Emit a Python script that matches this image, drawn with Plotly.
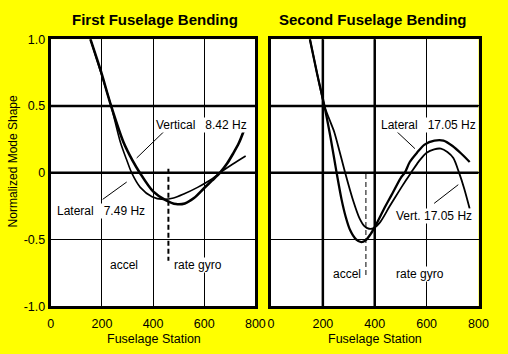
import plotly.graph_objects as go

W, H = 508, 354

# ---------------- data ----------------
# First fuselage bending (left panel)
LAT1_S = [155, 196, 236, 272, 296, 316, 350, 396, 440, 480, 520, 574, 624, 662, 712, 762]
LAT1_V = [1.0, 0.75, 0.5, 0.23, 0.10, 0.0, -0.11, -0.18, -0.20, -0.19, -0.16, -0.11, -0.055, 0.0, 0.065, 0.125]
VERT1_S = [155, 196, 236, 284, 320, 348, 400, 449, 490, 524, 560, 600, 630, 662, 690, 712, 735, 756]
VERT1_V = [1.0, 0.76, 0.5, 0.23, 0.09, 0.0, -0.14, -0.205, -0.235, -0.23, -0.19, -0.115, -0.06, 0.0, 0.07, 0.14, 0.22, 0.32]

# Second fuselage bending (right panel)
LAT2_S = [150, 178, 206, 230, 253, 272, 288, 305, 328, 348, 366, 384, 402, 436, 464, 500, 516,
          535, 563, 592, 630, 665, 700, 735, 766]
LAT2_V = [1.0, 0.74, 0.5, 0.26, 0.0, -0.2, -0.33, -0.43, -0.50, -0.52, -0.505, -0.46, -0.40, -0.27,
          -0.17, -0.04, 0.0, 0.08, 0.15, 0.21, 0.24, 0.24, 0.20, 0.14, 0.08]
VERT2_S = [150, 178, 206, 225, 243, 265, 286, 317, 341, 360, 378, 396, 421, 458, 493, 521, 540,
           570, 600, 629, 655, 680, 703, 725, 745, 766]
VERT2_V = [1.0, 0.74, 0.5, 0.40, 0.31, 0.155, 0.0, -0.21, -0.34, -0.40, -0.42, -0.415, -0.37, -0.25,
           -0.14, -0.055, 0.0, 0.085, 0.15, 0.175, 0.18, 0.155, 0.11, 0.0, -0.12, -0.27]

# sensor marker lines: (station, top, bottom)
SENSOR1 = (460, 0.03, -0.66)
SENSOR2 = (366, -0.01, -0.78)

# leader lines: (s0, v0, s1, v1)
LEAD1 = [(449, 0.32, 336, 0.11), (203, -0.20, 297, -0.07)]
LEAD2 = [(481, 0.315, 555, 0.18), (629, -0.23, 722, -0.09)]

# labels: (text, station, value, anchor)
NB = "\u00a0"
LABELS1 = [("Vertical" + NB * 3 + "8.42 Hz", 408, 0.36, "left"),
           ("Lateral" + NB * 3 + "7.49 Hz", 19, -0.29, "left"),
           ("accel", 287, -0.69, "center"),
           ("rate gyro", 479, -0.69, "left")]
LABELS2 = [("Lateral" + NB * 3 + "17.05 Hz", 419, 0.355, "left"),
           ("Vert." + NB + "17.05 Hz", 480, -0.325, "left"),
           ("accel", 294, -0.76, "center"),
           ("rate gyro", 480, -0.76, "left")]

X_TICKS = [0, 200, 400, 600, 800]
X_TICKTEXT = ["0", "200", "400", "600", "800"]
Y_TICKS = [1.0, 0.5, 0.0, -0.5, -1.0]
Y_TICKTEXT = ["1.0", "0.5", "0", "-0.5", "-1.0"]

THICK_Y1 = [0.5, 0.0]
THICK_X1 = []
THICK_Y2 = [0.5, 0.0]
THICK_X2 = [200, 400]

TITLE1 = "First Fuselage Bending"
TITLE2 = "Second Fuselage Bending"
XTITLE = "Fuselage Station"
YTITLE = "Normalized Mode Shape"

FONT = "Liberation Sans, Arial, sans-serif"
YEL = "#FFFF00"

# ---------------- figure ----------------
fig = go.Figure()

def curve(s, v, xa, ya, w):
    fig.add_trace(go.Scatter(x=s, y=v, mode="lines", xaxis=xa, yaxis=ya,
                             line=dict(color="black", width=w, shape="spline", smoothing=0.8),
                             hoverinfo="skip", showlegend=False))

curve(LAT1_S, LAT1_V, "x", "y", 1.6)
curve(VERT1_S, VERT1_V, "x", "y", 2.6)
curve(VERT2_S, VERT2_V, "x2", "y2", 1.8)
curve(LAT2_S, LAT2_V, "x2", "y2", 2.3)

px_x1 = [49 / W, 259 / W]
px_x2 = [275 / W, 488 / W]
px_y = [1 - 311.5 / H, 1 - 33.5 / H]

axis_common = dict(showgrid=True, gridcolor="black", gridwidth=1, showline=True,
                   linecolor="black", linewidth=3, mirror=True, zeroline=False, ticks="",
                   tickfont=dict(family=FONT, size=12.5, color="black"), fixedrange=True)

fig.update_layout(
    width=W, height=H, margin=dict(l=0, r=0, t=0, b=0),
    paper_bgcolor=YEL, plot_bgcolor="white",
    xaxis=dict(domain=px_x1, range=[0, 800], tickvals=X_TICKS, ticktext=X_TICKTEXT,
               anchor="y", ticklabelstandoff=4, **axis_common),
    yaxis=dict(domain=px_y, range=[-1, 1], tickvals=Y_TICKS, ticktext=Y_TICKTEXT,
               anchor="x", **axis_common),
    xaxis2=dict(domain=px_x2, range=[0, 800], tickvals=X_TICKS, ticktext=X_TICKTEXT,
                anchor="y2", ticklabelstandoff=4, **axis_common),
    yaxis2=dict(domain=px_y, range=[-1, 1], tickvals=Y_TICKS, ticktext=Y_TICKTEXT,
                anchor="x2", showticklabels=False, **axis_common),
)

shapes = []
for xa, ya, ty, tx in [("x", "y", THICK_Y1, THICK_X1), ("x2", "y2", THICK_Y2, THICK_X2)]:
    for yv in ty:
        shapes.append(dict(type="line", xref=xa + " domain", yref=ya, x0=0, x1=1, y0=yv, y1=yv,
                           line=dict(color="black", width=2.5), layer="below"))
    for xv in tx:
        shapes.append(dict(type="line", xref=xa, yref=ya + " domain", x0=xv, x1=xv, y0=0, y1=1,
                           line=dict(color="black", width=2.5), layer="below"))

for xa, ya, leads in [("x", "y", LEAD1), ("x2", "y2", LEAD2)]:
    for s0, v0, s1, v1 in leads:
        shapes.append(dict(type="line", xref=xa, yref=ya, x0=s0, y0=v0, x1=s1, y1=v1,
                           line=dict(color="black", width=1)))

for xa, ya, sen, w in [("x", "y", SENSOR1, 2), ("x2", "y2", SENSOR2, 1)]:
    s, top, bot = sen
    shapes.append(dict(type="line", xref=xa, yref=ya, x0=s, x1=s, y0=top, y1=bot,
                       line=dict(color="black", width=w, dash="5px,3px")))

annotations = []
for xa, ya, labels in [("x", "y", LABELS1), ("x2", "y2", LABELS2)]:
    for text, s, v, anc in labels:
        annotations.append(dict(text=text, x=s, y=v, xref=xa, yref=ya, xanchor=anc,
                                yanchor="middle", showarrow=False, bgcolor="white", borderpad=0,
                                font=dict(family=FONT, size=12, color="black")))

annotations += [
    dict(text="<b>" + TITLE1 + "</b>", x=156 / W, y=1 - 16 / H, xref="paper", yref="paper",
         showarrow=False, xanchor="center", yanchor="middle", yshift=3,
         font=dict(family=FONT, size=15, color="black")),
    dict(text="<b>" + TITLE2 + "</b>", x=380 / W, y=1 - 16 / H, xref="paper", yref="paper",
         showarrow=False, xanchor="center", yanchor="middle", yshift=3,
         font=dict(family=FONT, size=15, color="black")),
    dict(text=XTITLE, x=155 / W, y=1 - 341 / H, xref="paper", yref="paper", showarrow=False,
         xanchor="center", yanchor="middle", yshift=-4,
         font=dict(family=FONT, size=12.5, color="black")),
    dict(text=XTITLE, x=382 / W, y=1 - 341 / H, xref="paper", yref="paper", showarrow=False,
         xanchor="center", yanchor="middle", yshift=-4,
         font=dict(family=FONT, size=12.5, color="black")),
    dict(text=YTITLE, x=10 / W, y=1 - 161 / H, xref="paper", yref="paper", showarrow=False,
         textangle=-90, xanchor="center", yanchor="middle",
         font=dict(family=FONT, size=12, color="black")),
]

fig.update_layout(shapes=shapes, annotations=annotations)
fig.write_html("out.html")
